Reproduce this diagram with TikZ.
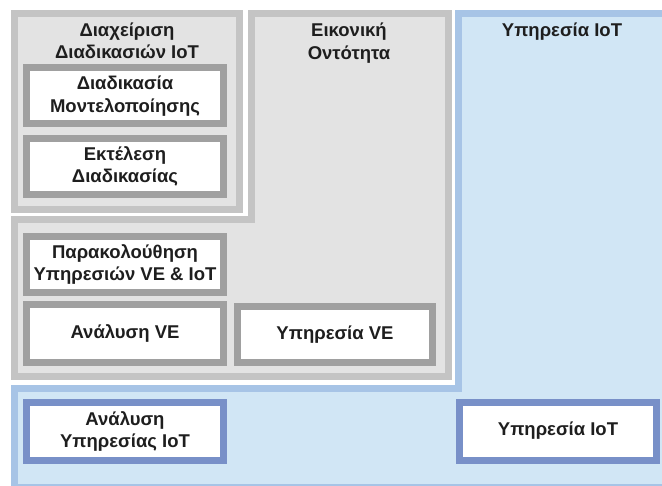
\documentclass[tikz,border=0pt]{standalone}
\usepackage{fontspec}
\setmainfont{Liberation Sans}
\definecolor{grayfill}{HTML}{E3E3E3}
\definecolor{grayframe}{HTML}{C4C4C4}
\definecolor{boxgray}{HTML}{A0A0A0}
\definecolor{bluefill}{HTML}{D1E6F5}
\definecolor{blueframe}{HTML}{A7C4E6}
\definecolor{boxblue}{HTML}{7890C8}
\definecolor{txt}{HTML}{1E1E1E}
\tikzset{
  lbl/.style={font=\fontsize{18.5}{22.5}\selectfont\bfseries, text=txt, align=center, inner sep=0pt},
  graybox/.style={lbl, draw=boxgray, fill=white, line width=7pt, minimum width=197pt, minimum height=56pt},
  bluebox/.style={lbl, draw=boxblue, fill=white, line width=7pt, minimum width=197pt, minimum height=58pt},
  frame/.style={line width=7pt, line join=miter},
}
\begin{document}
\begin{tikzpicture}[x=1pt,y=-1pt]
\useasboundingbox (0,0) rectangle (662,486);
\begin{scope}
\clip (0,0) rectangle (662,486);
% IoT service L-shape
\filldraw[frame, draw=blueframe, fill=bluefill]
  (458.5,13.5) -- (680,13.5) -- (680,488) -- (14.5,488) -- (14.5,388.5) -- (458.5,388.5) -- cycle;
% Virtual entity L-shape
\filldraw[frame, draw=grayframe, fill=grayfill]
  (251.5,13.5) -- (448.5,13.5) -- (448.5,376.5) -- (14.5,376.5) -- (14.5,219.5) -- (251.5,219.5) -- cycle;
% process management box
\filldraw[frame, draw=grayframe, fill=grayfill] (14.5,13.5) rectangle (239.5,209.5);
\end{scope}
% titles
\node[lbl] (tpm) at (127,41) {Διαχείριση\\Διαδικασιών IoT};
\node[lbl] (tve) at (349,43) {Εικονική\\Οντότητα};
\node[lbl] (tiot) at (562,32) {Υπηρεσία IoT};
% inner boxes
\node[graybox] (model) at (125,96) {Διαδικασία\\Μοντελοποίησης};
\node[graybox] (exec) at (125,166.5) {Εκτέλεση\\Διαδικασίας};
\node[graybox] (mon) at (125,264.5) {Παρακολούθηση\\Υπηρεσιών VE \& IoT};
\node[graybox, minimum height=58pt] (ave) at (125,333.5) {Ανάλυση VE};
\node[graybox, minimum width=195pt] (sve) at (335,334.5) {Υπηρεσία VE};
\node[bluebox] (aiot) at (125,431.5) {Ανάλυση\\Υπηρεσίας IoT};
\node[bluebox] (siot) at (558,431.5) {\raisebox{5pt}{Υπηρεσία IoT}};
\end{tikzpicture}
\end{document}
